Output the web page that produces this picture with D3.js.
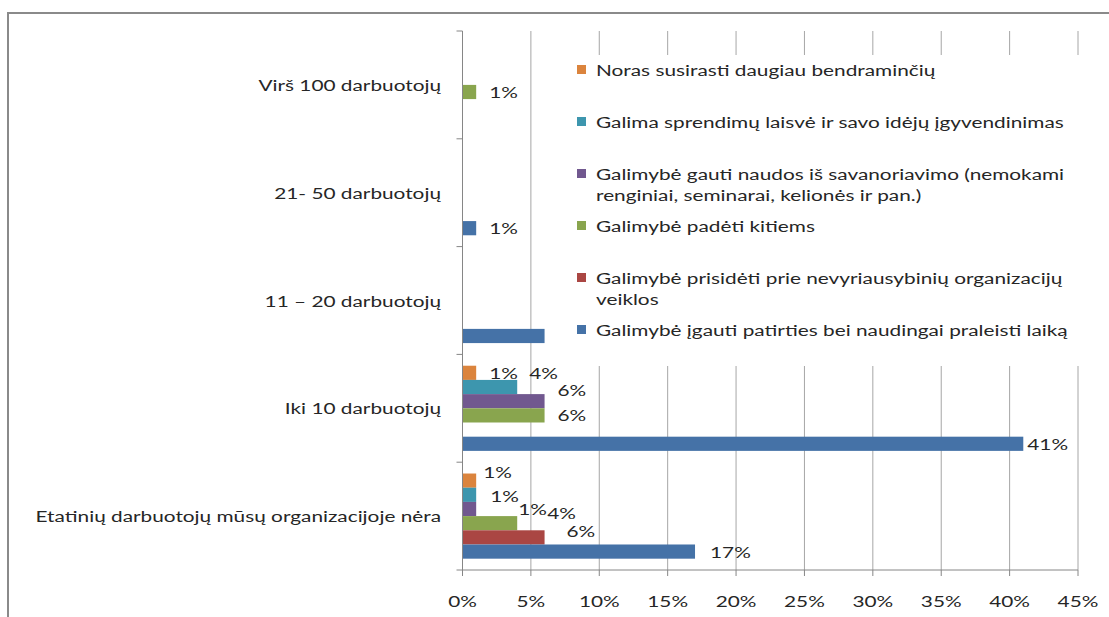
<!DOCTYPE html>
<html>
<head>
<meta charset="utf-8">
<script src="https://cdn.jsdelivr.net/npm/d3@7"></script>
<style>
  body { margin: 0; background: #fff; }
  text { font-family: Lato, "Open Sans", sans-serif; fill: #262626; }
</style>
</head>
<body>
<div id="chart"><svg width="1109" height="617"></svg></div>
<script>
const svg = d3.select("#chart svg");
const width = parseInt(svg.attr("width"));
const height = parseInt(svg.attr("height"));

// kategorijos (iš viršaus į apačią)
const categories = [
    "Virš 100 darbuotojų",
    "21- 50 darbuotojų",
    "11 – 20 darbuotojų",
    "Iki 10 darbuotojų",
    "Etatinių darbuotojų mūsų organizacijoje nėra"
];

// serijos (legendos tvarka)
const seriesNames = [
    "Noras susirasti daugiau bendraminčių",
    "Galima sprendimų laisvė ir savo idėjų įgyvendinimas",
    "Galimybė gauti naudos iš savanoriavimo (nemokami\nrenginiai, seminarai, kelionės ir pan.)",
    "Galimybė padėti kitiems",
    "Galimybė prisidėti prie nevyriausybinių organizacijų\nveiklos",
    "Galimybė įgauti patirties bei naudingai praleisti laiką"
];
const seriesColors = ["#DB843D", "#3D96AE", "#71588F", "#89A54E", "#AA4643", "#4572A7"];

// reikšmės (%) pagal kategorijas
const noras     = [0, 0, 0, 1, 1];
const laisve    = [0, 0, 0, 4, 1];
const nauda     = [0, 0, 0, 6, 1];
const padeti    = [1, 0, 0, 6, 4];
const prisideti = [0, 0, 0, 0, 6];
const patirtis  = [0, 1, 6, 41, 17];
const seriesValues = [noras, laisve, nauda, padeti, prisideti, patirtis];

const xTicks = [0, 5, 10, 15, 20, 25, 30, 35, 40, 45];

// etikečių pastumimai (kaip originale)
const labelNudge = {
    "0|4": [-6, -9], "1|4": [1, 1], "2|4": [29, 0], "3|4": [17, -10], "4|4": [9, -6], "5|4": [2, 0],
    "1|3": [-1, -14], "2|3": [0, -11], "5|3": [-9, 0]
};

const x0 = 462.5, x1 = 1078, yTop = 31, yBottom = 570;
const stretch = 1.3;   // originalo tekstas ištemptas horizontaliai

const x = d3.scaleLinear().domain([0, 45]).range([x0, x1]);
const y = d3.scaleBand().domain(categories).range([yTop, yBottom]).padding(0);
const bw = y.bandwidth();
const ySub = d3.scaleBand().domain(d3.range(seriesNames.length))
    .range([bw * 0.105, bw * 0.895]).padding(0);

// tekstas su horizontaliu ištempimu
function addText(parent, tx, ty, str, anchor) {
    return parent.append("text")
        .attr("transform", `translate(${tx},${ty}) scale(${stretch},1)`)
        .attr("text-anchor", anchor || "start")
        .attr("dominant-baseline", "central")
        .attr("font-size", "16px")
        .text(str);
}

// rėmelis
svg.append("rect")
    .attr("x", 8).attr("y", 13)
    .attr("width", width).attr("height", height)
    .attr("fill", "none")
    .attr("stroke", "#8a8a8a")
    .attr("stroke-width", 2);

// tinklelio linijos
svg.append("g")
    .selectAll("line")
    .data(xTicks.slice(1))
    .join("line")
    .attr("x1", d => x(d)).attr("x2", d => x(d))
    .attr("y1", yTop).attr("y2", yBottom)
    .attr("stroke", "#a6a6a6")
    .attr("stroke-width", 1);

// stulpeliai
const groups = svg.append("g")
    .selectAll("g")
    .data(categories)
    .join("g")
    .attr("transform", d => `translate(0,${y(d)})`);

groups.each(function(cat, ci) {
    const g = d3.select(this);
    seriesValues.forEach((vals, si) => {
        const v = vals[ci];
        if (!v) return;
        g.append("rect")
            .attr("x", x(0))
            .attr("y", ySub(si))
            .attr("width", x(v) - x(0))
            .attr("height", ySub.bandwidth())
            .attr("fill", seriesColors[si]);
    });
});

// reikšmių etiketės
groups.each(function(cat, ci) {
    const g = d3.select(this);
    seriesValues.forEach((vals, si) => {
        const v = vals[ci];
        if (!v) return;
        const n = labelNudge[si + "|" + ci] || [0, 0];
        addText(g, x(v) + 13 + n[0], ySub(si) + ySub.bandwidth() / 2 + n[1], v + "%");
    });
});

// ašis y
svg.append("line")
    .attr("x1", x0).attr("x2", x0)
    .attr("y1", yTop).attr("y2", yBottom)
    .attr("stroke", "#868686");
svg.append("g")
    .selectAll("line")
    .data(d3.range(categories.length + 1))
    .join("line")
    .attr("x1", x0 - 6).attr("x2", x0)
    .attr("y1", i => yTop + i * bw).attr("y2", i => yTop + i * bw)
    .attr("stroke", "#868686");
const yLabels = svg.append("g");
categories.forEach(c => addText(yLabels, 441, y(c) + bw / 2, c, "end"));

// ašis x
svg.append("line")
    .attr("x1", x0).attr("x2", x1)
    .attr("y1", yBottom).attr("y2", yBottom)
    .attr("stroke", "#868686");
svg.append("g")
    .selectAll("line")
    .data(xTicks)
    .join("line")
    .attr("x1", d => x(d)).attr("x2", d => x(d))
    .attr("y1", yBottom).attr("y2", yBottom + 6)
    .attr("stroke", "#868686");
const xLabels = svg.append("g");
xTicks.forEach(t => addText(xLabels, x(t), 601, t + "%", "middle"));

// legenda
const legend = svg.append("g");
legend.append("rect")
    .attr("x", 553).attr("y", 55)
    .attr("width", 535).attr("height", 311)
    .attr("fill", "#fff");

seriesNames.forEach((name, i) => {
    const ly = 70 + i * 52;
    legend.append("rect")
        .attr("x", 577).attr("y", ly - 5)
        .attr("width", 9).attr("height", 9)
        .attr("fill", seriesColors[i]);
    name.split("\n").forEach((ln, j) => addText(legend, 596, ly + j * 21, ln));
});
</script>
</body>
</html>
